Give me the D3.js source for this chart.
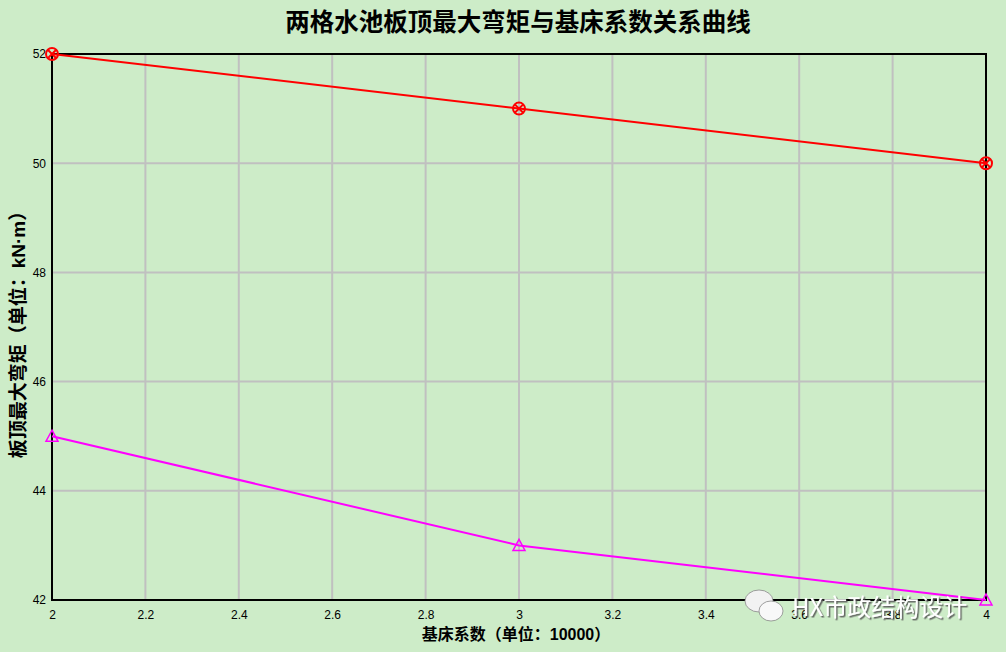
<!DOCTYPE html>
<html><head><meta charset="utf-8">
<script src="https://cdn.jsdelivr.net/npm/d3@7"></script>
<style>body{margin:0;background:#cdecc8;}svg{display:block;}</style>
</head><body>
<svg id="c" width="1006" height="652"></svg>
<script>
const xValues = [2, 3, 4];
const seriesTop = [52, 51, 50];
const seriesBottom = [45, 43, 42];
const xTicks = [2, 2.2, 2.4, 2.6, 2.8, 3, 3.2, 3.4, 3.6, 3.8, 4];
const yTicks = [42, 44, 46, 48, 50, 52];
const title = "两格水池板顶最大弯矩与基床系数关系曲线";
const xTitle = "基床系数（单位：10000）";
const yTitle = "板顶最大弯矩（单位：kN·m）";
const watermark = "HX市政结构设计";

const svg = d3.select("#c");
const W = 1006, H = 652;
const m = {l: 52, r: 20, t: 54, b: 52};
svg.append("rect").attr("width", W).attr("height", H).attr("fill", "#cdecc8");

const defs = svg.append("defs");
const f = defs.append("filter").attr("id", "sh").attr("x", "-10%").attr("y", "-30%").attr("width", "130%").attr("height", "170%");
f.append("feDropShadow").attr("dx", 1.5).attr("dy", 1.5).attr("stdDeviation", 0.6).attr("flood-color", "#555").attr("flood-opacity", 0.9);

const x = d3.scaleLinear().domain([2, 4]).range([m.l, W - m.r]);
const y = d3.scaleLinear().domain([42, 52]).range([H - m.b, m.t]);

// grid
const g = svg.append("g");
g.selectAll(".vg").data(xTicks.slice(1, -1)).join("line")
  .attr("x1", d => x(d)).attr("x2", d => x(d)).attr("y1", y(52)).attr("y2", y(42))
  .attr("stroke", "#c0c0c0").attr("stroke-width", 2);
g.selectAll(".hg").data(yTicks.slice(1, -1)).join("line")
  .attr("y1", d => y(d)).attr("y2", d => y(d)).attr("x1", x(2)).attr("x2", x(4))
  .attr("stroke", "#c0c0c0").attr("stroke-width", 2);

// frame
svg.append("rect").attr("x", x(2)).attr("y", y(52)).attr("width", x(4) - x(2)).attr("height", y(42) - y(52))
  .attr("fill", "none").attr("stroke", "#000").attr("stroke-width", 2);

// axes tick labels
const xAxis = d3.axisBottom(x).tickValues(xTicks).tickSize(0).tickPadding(10).tickFormat(d3.format("~g"));
const xa = svg.append("g").attr("transform", `translate(0,${y(42)})`).call(xAxis);
xa.select(".domain").remove();
xa.selectAll("text").attr("font-family", "Arial, 'Liberation Sans', sans-serif").attr("font-size", 12).attr("fill", "#000");

const yAxis = d3.axisLeft(y).tickValues(yTicks).tickSize(0).tickPadding(6).tickFormat(d3.format("~g"));
const ya = svg.append("g").attr("transform", `translate(${x(2)},0)`).call(yAxis);
ya.select(".domain").remove();
ya.selectAll("text").attr("font-family", "Arial, 'Liberation Sans', sans-serif").attr("font-size", 12).attr("fill", "#000");

// lines
const line = d3.line().x(d => x(d[0])).y(d => y(d[1]));
const topData = xValues.map((v, i) => [v, seriesTop[i]]);
const botData = xValues.map((v, i) => [v, seriesBottom[i]]);
svg.append("path").datum(topData).attr("d", line).attr("fill", "none").attr("stroke", "#ff0000").attr("stroke-width", 2);
svg.append("path").datum(botData).attr("d", line).attr("fill", "none").attr("stroke", "#ff00ff").attr("stroke-width", 2);

// markers: circle with x
const mk = svg.append("g").selectAll("g").data(topData).join("g")
  .attr("transform", d => `translate(${x(d[0])},${y(d[1])})`);
mk.append("circle").attr("r", 6).attr("fill", "none").attr("stroke", "#ff0000").attr("stroke-width", 2);
mk.append("path").attr("d", "M-4.2,-4.2L4.2,4.2M-4.2,4.2L4.2,-4.2").attr("stroke", "#ff0000").attr("stroke-width", 2);

svg.append("g").selectAll("path").data(botData).join("path")
  .attr("transform", d => `translate(${x(d[0])},${y(d[1])})`)
  .attr("d", "M0,-6L6,5L-6,5Z").attr("fill", "none").attr("stroke", "#ff00ff").attr("stroke-width", 1.5);

// titles
const ff = "'Liberation Sans', Arial, 'Noto Sans CJK SC', sans-serif";
svg.append("text").attr("x", 518).attr("y", 31).attr("text-anchor", "middle")
  .attr("font-family", "'Noto Sans CJK SC', sans-serif").attr("font-weight", "bold").attr("font-size", 24.5)
  .attr("fill", "#000").text(title);
svg.append("text").attr("x", 516).attr("y", 640).attr("text-anchor", "middle")
  .attr("font-family", ff).attr("font-weight", "bold").attr("font-size", 16)
  .attr("fill", "#000").text(xTitle);
svg.append("text").attr("transform", "translate(25,330) rotate(-90)").attr("text-anchor", "middle")
  .attr("font-family", ff).attr("font-weight", "bold").attr("font-size", 19)
  .attr("fill", "#000").text(yTitle);

// watermark
const wm = svg.append("g");
wm.append("ellipse").attr("cx", 759).attr("cy", 601).attr("rx", 14).attr("ry", 11).attr("fill", "#f2f2f2").attr("stroke", "#888").attr("stroke-width", 0.8);
wm.append("ellipse").attr("cx", 771).attr("cy", 611).attr("rx", 12).attr("ry", 10).attr("fill", "#f8f8f8").attr("stroke", "#888").attr("stroke-width", 0.8);
wm.append("text").attr("x", 792).attr("y", 616).attr("font-family", "'Noto Sans CJK SC', sans-serif")
  .attr("font-size", 24).attr("fill", "#fff").attr("filter", "url(#sh)").text(watermark);
</script>
</body></html>
